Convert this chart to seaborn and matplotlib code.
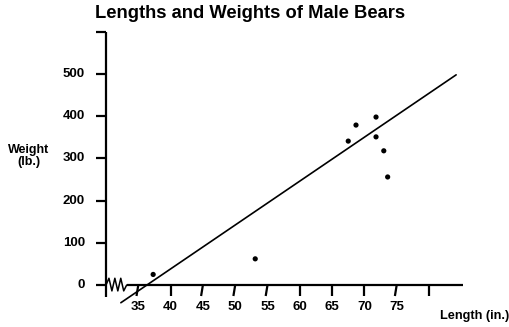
import numpy as np
import pandas as pd
import matplotlib
matplotlib.use("Agg")
import matplotlib.pyplot as plt
import seaborn as sns

# Measured bears
length_in = [37.3, 53.1, 67.5, 68.7, 71.8, 71.8, 73.0, 73.6]
weight_lb = [25, 62, 341, 379, 398, 351, 318, 256]

# Trend line end points
fit_length = [32.3, 84.2]
fit_weight = [-42, 498]

x_ticks = [35, 40, 45, 50, 55, 60, 65, 70, 75, 80]
x_labels = ["35", "40", "45", "50", "55", "60", "65", "70", "75", ""]
y_ticks = [0, 100, 200, 300, 400, 500, 600]
y_labels = ["0", "100", "200", "300", "400", "500", ""]

sns.set_theme(style="white")
plt.rcParams["font.family"] = ["Liberation Sans", "DejaVu Sans"]
plt.rcParams["font.weight"] = "bold"
plt.rcParams["text.color"] = "black"

W, H = 510, 327
fig = plt.figure(figsize=(W / 100, H / 100), dpi=100)

# axes placed so data units map onto the drawing area
x_lo, x_hi = 29.0, 87.0
y_lo, y_hi = -50.0, 620.0
px_x = 6.46
px_y = 0.422
left_px = 106 - (30 - x_lo) * px_x
bottom_px = (H - 285) - (0 - y_lo) * px_y
ax = fig.add_axes([left_px / W, bottom_px / H,
                   (x_hi - x_lo) * px_x / W, (y_hi - y_lo) * px_y / H])
ax.set_xlim(x_lo, x_hi)
ax.set_ylim(y_lo, y_hi)
ax.set_facecolor("white")
for s in ax.spines.values():
    s.set_visible(False)
ax.set_xticks([])
ax.set_yticks([])

df = pd.DataFrame({"Length": length_in, "Weight": weight_lb})
fit = pd.DataFrame({"Length": fit_length, "Weight": fit_weight})

sns.lineplot(data=fit, x="Length", y="Weight", ax=ax, color="black",
             linewidth=1.2, zorder=3)
sns.scatterplot(data=df, x="Length", y="Weight", ax=ax, color="black",
                s=14, edgecolor="none", zorder=4)
ax.set_xlabel("")
ax.set_ylabel("")

lw = 1.6
x0 = 30.0           # where the axes meet
x_break = 33.2      # end of the broken segment
x_end = 85.3
y_bottom = -28
y_top = 600

# vertical axis
ax.plot([x0, x0], [y_bottom, y_top], color="black", lw=lw,
        solid_capstyle="butt", clip_on=False)
# horizontal axis after the break
ax.plot([x_break, x_end], [0, 0], color="black", lw=lw,
        solid_capstyle="butt", clip_on=False)
# zigzag axis break
zx = np.linspace(x0, x_break, 8)
zy = np.array([0, 16, -14, 16, -14, 16, -14, 0])
ax.plot(zx, zy, color="black", lw=1.1, clip_on=False)

# y ticks and labels
tick_x = 10 / px_x
for v, lab in zip(y_ticks, y_labels):
    ax.plot([x0 - tick_x, x0], [v, v], color="black", lw=lw,
            solid_capstyle="butt", clip_on=False)
    if lab:
        ax.text(x0 - 21 / px_x, v, lab, ha="right", va="center",
                fontsize=9.5, fontweight="bold", color="black")

# x ticks (a few drawn with a slight lean) and labels
tick_y = 11 / px_y
leaning = {35, 45, 50, 55, 75}
for v, lab in zip(x_ticks, x_labels):
    lean = 1.8 / px_x if v in leaning else 0.0
    ax.plot([v, v - lean], [0, -tick_y], color="black", lw=lw,
            solid_capstyle="butt", clip_on=False)
    if lab:
        ax.text(v, -22 / px_y, lab, ha="center", va="center",
                fontsize=9.5, fontweight="bold", color="black")

fig.text(250 / W, 1 - 13 / H, "Lengths and Weights of Male Bears",
         ha="center", va="center", fontsize=13.2, fontweight="bold")
fig.text(29 / W, 1 - 156 / H, "Weight\n(lb.)", ha="center", va="center",
         fontsize=9, fontweight="bold", linespacing=1.0)
fig.text(475 / W, 1 - 316 / H, "Length (in.)", ha="center", va="center",
         fontsize=9.2, fontweight="bold")

fig.savefig("out.png", dpi=100, facecolor="white")
